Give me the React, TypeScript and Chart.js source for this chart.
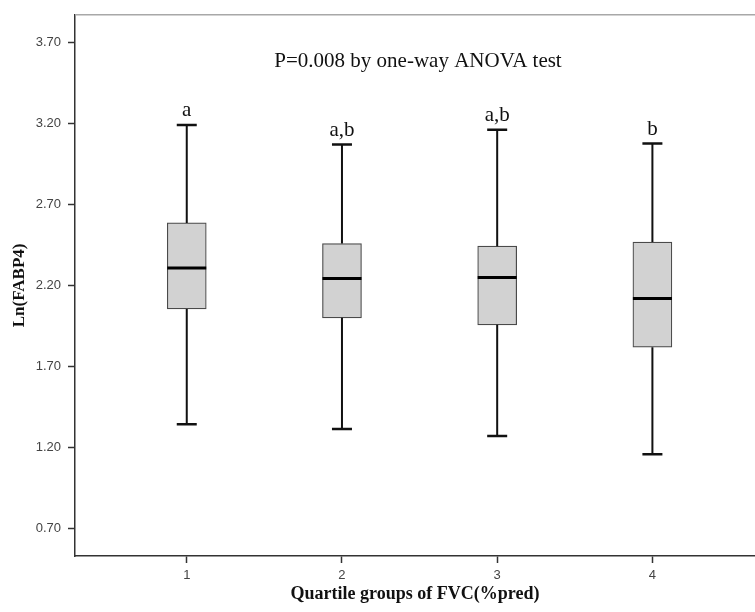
import React, { useEffect, useRef } from "react";
import { Chart, registerables } from "chart.js";

Chart.register(...registerables);

// ---- Data ----
const groups = [1, 2, 3, 4];
const whiskerHigh = [3.19, 3.07, 3.16, 3.075];
const q3 = [2.586, 2.459, 2.443, 2.468];
const medians = [2.309, 2.243, 2.25, 2.121];
const q1 = [2.056, 2.001, 1.958, 1.82];
const whiskerLow = [1.345, 1.316, 1.272, 1.16];
const groupLetters = ["a", "a,b", "a,b", "b"];
const yTicks = [0.7, 1.2, 1.7, 2.2, 2.7, 3.2, 3.7];
const xTicks = [1, 2, 3, 4];
const pText = "P=0.008 by one-way ANOVA test";
const pTextX = 2.49;
const pTextY = 3.55;
const yTitle = "Ln(FABP4)";
const xTitle = "Quartile groups of FVC(%pred)";

const BOX_W = 39;
const CAP_HALF = 10;

const boxPlugin = {
  id: "boxExtras",
  afterDatasetsDraw(chart: any) {
    const { ctx, chartArea, scales } = chart;
    const xs = scales.x;
    const ys = scales.y;
    ctx.save();
    // top border
    ctx.strokeStyle = "#a8a8a8";
    ctx.lineWidth = 1.5;
    ctx.beginPath();
    ctx.moveTo(chartArea.left, chartArea.top);
    ctx.lineTo(chartArea.right, chartArea.top);
    ctx.stroke();

    groups.forEach((g, i) => {
      const px = xs.getPixelForValue(g);
      const yHi = ys.getPixelForValue(whiskerHigh[i]);
      const yQ3 = ys.getPixelForValue(q3[i]);
      const yMed = ys.getPixelForValue(medians[i]);
      const yQ1 = ys.getPixelForValue(q1[i]);
      const yLo = ys.getPixelForValue(whiskerLow[i]);
      ctx.strokeStyle = "#111";
      ctx.lineWidth = 2;
      ctx.beginPath();
      ctx.moveTo(px, yQ3);
      ctx.lineTo(px, yHi);
      ctx.moveTo(px, yQ1);
      ctx.lineTo(px, yLo);
      ctx.stroke();
      ctx.lineWidth = 2.5;
      ctx.beginPath();
      ctx.moveTo(px - CAP_HALF, yHi);
      ctx.lineTo(px + CAP_HALF, yHi);
      ctx.moveTo(px - CAP_HALF, yLo);
      ctx.lineTo(px + CAP_HALF, yLo);
      ctx.stroke();
      // median
      ctx.strokeStyle = "#000";
      ctx.lineWidth = 3;
      ctx.beginPath();
      ctx.moveTo(px - BOX_W / 2, yMed);
      ctx.lineTo(px + BOX_W / 2, yMed);
      ctx.stroke();
      // letters
      ctx.fillStyle = "#111";
      ctx.font = '21px "Liberation Serif", "Times New Roman", serif';
      ctx.textAlign = "center";
      ctx.textBaseline = "alphabetic";
      ctx.fillText(groupLetters[i], px, yHi - 8.5);
    });

    ctx.fillStyle = "#111";
    ctx.font = '21px "Liberation Serif", "Times New Roman", serif';
    ctx.textAlign = "center";
    ctx.textBaseline = "alphabetic";
    ctx.fillText(pText, xs.getPixelForValue(pTextX), ys.getPixelForValue(pTextY));
    ctx.restore();
  },
};

export default function App() {
  const canvasRef = useRef<HTMLCanvasElement | null>(null);

  useEffect(() => {
    document.body.style.margin = "0";
    const canvas = canvasRef.current;
    if (!canvas) return;
    const chart = new Chart(canvas, {
      type: "bar",
      data: {
        datasets: [
          {
            data: groups.map((g, i) => ({ x: g, y: [q1[i], q3[i]] })) as any,
            backgroundColor: "#d2d2d2",
            borderColor: "#4a4a4a",
            borderWidth: 1.2,
            borderSkipped: false,
            barThickness: BOX_W,
          },
        ],
      },
      options: {
        animation: false,
        responsive: false,
        events: [],
        layout: { padding: { top: 10, left: 0, right: 0, bottom: 0 } },
        plugins: {
          legend: { display: false },
          tooltip: { enabled: false },
          title: { display: false },
        },
        scales: {
          x: {
            type: "linear",
            offset: false,
            min: 0.28,
            max: 4.661,
            afterBuildTicks: (s: any) => {
              s.ticks = xTicks.map((v) => ({ value: v }));
            },
            afterFit: (s: any) => {
              s.height = 56;
            },
            grid: {
              offset: false,
              drawOnChartArea: false,
              drawTicks: true,
              tickLength: 7,
              tickColor: "#333",
              tickWidth: 1.5,
            },
            border: { color: "#333", width: 1.5 },
            ticks: {
              padding: 5,
              color: "#444",
              font: { family: '"Liberation Sans", Arial, sans-serif', size: 13 },
              callback: (v: any) => String(v),
            },
            title: {
              display: true,
              text: xTitle,
              color: "#111",
              font: { family: '"Liberation Serif", "Times New Roman", serif', size: 18, weight: "bold" },
              padding: { top: 0, bottom: 7 },
            },
          },
          y: {
            type: "linear",
            min: 0.533,
            max: 3.869,
            afterBuildTicks: (s: any) => {
              s.ticks = yTicks.map((v) => ({ value: v }));
            },
            afterFit: (s: any) => {
              s.width = 75;
            },
            grid: {
              drawOnChartArea: false,
              drawTicks: true,
              tickLength: 7,
              tickColor: "#333",
              tickWidth: 1.5,
            },
            border: { color: "#333", width: 1.5 },
            ticks: {
              padding: 7,
              color: "#444",
              font: { family: '"Liberation Sans", Arial, sans-serif', size: 13 },
              callback: (v: any) => Number(v).toFixed(2),
            },
            title: {
              display: true,
              text: yTitle,
              color: "#111",
              font: { family: '"Liberation Serif", "Times New Roman", serif', size: 17, weight: "bold" },
              padding: { top: 9, bottom: 0 },
            },
          },
        },
      },
      plugins: [boxPlugin],
    });
    return () => chart.destroy();
  }, []);

  return (
    <div style={{ width: 755, height: 612 }}>
      <canvas ref={canvasRef} width={755} height={612} />
    </div>
  );
}
